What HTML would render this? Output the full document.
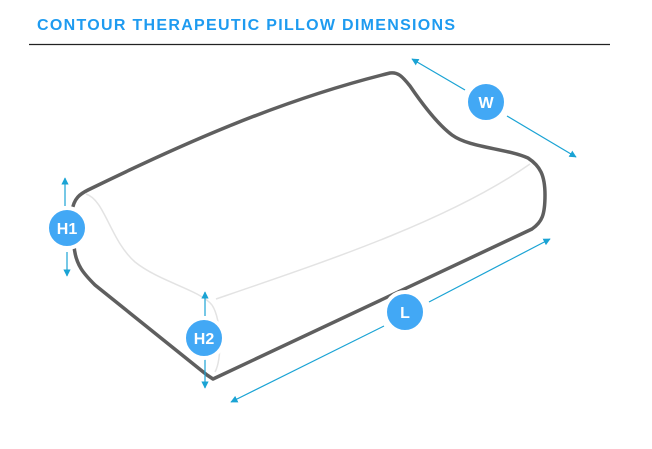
<!DOCTYPE html>
<html><head><style>
html,body{margin:0;padding:0;background:#fff;}
body{width:652px;height:444px;overflow:hidden;position:relative;}
</style></head><body>
<svg width="652" height="444" viewBox="0 0 652 444" xmlns="http://www.w3.org/2000/svg">
<defs>
<marker id="ah" viewBox="0 0 10 10" refX="9" refY="5" markerWidth="6" markerHeight="6" orient="auto-start-reverse">
<path d="M0,0 L10,5 L0,10 z" fill="#1aa3d4"/>
</marker>
</defs>
<text x="37" y="30" font-family="Liberation Sans, sans-serif" font-weight="bold" font-size="16" fill="#1e9bf0" letter-spacing="1.3">CONTOUR THERAPEUTIC PILLOW DIMENSIONS</text>
<line x1="29" y1="44.5" x2="610" y2="44.5" stroke="#222" stroke-width="1.2"/>
<g fill="none" stroke="#e3e3e3" stroke-width="1.5">
<path d="M86,194 C105,200 110,240 135,262 C160,282 200,290 212,305"/>
<path d="M216,299 C330,260 450,220 530,164"/>
<path d="M212,305 C222,320 222,360 215,372"/>
</g>
<g fill="none" stroke="#5f5f5f" stroke-width="3.5" stroke-linecap="round" stroke-linejoin="round">
<path d="M72,211 C74,198 80,194 88,190 C180,145 280,100 390,73 C398,72 402,76 410,86 C425,108 440,126 452,135 C470,148 505,148 528,158 C540,166 545,175 545,195 C545,215 542,222 532,229 L 213,379 L 207,375 L 95,285 C85,275 75,265 74,245"/>
</g>
<g stroke="#1aa3d4" stroke-width="1.2" fill="none">
<line x1="65" y1="206" x2="65" y2="178" marker-end="url(#ah)"/>
<line x1="67" y1="252" x2="67" y2="276" marker-end="url(#ah)"/>
<line x1="205" y1="316" x2="205" y2="292" marker-end="url(#ah)"/>
<line x1="205" y1="354" x2="205" y2="388" marker-end="url(#ah)"/>
<line x1="465" y1="90" x2="412" y2="59" marker-end="url(#ah)"/>
<line x1="507" y1="116" x2="576" y2="157" marker-end="url(#ah)"/>
<line x1="429" y1="302" x2="550" y2="239" marker-end="url(#ah)"/>
<line x1="384" y1="326" x2="231" y2="402" marker-end="url(#ah)"/>
</g>
<g fill="#42a8f5" stroke="#fff" stroke-width="4">
<circle cx="67" cy="228" r="20"/>
<circle cx="204" cy="338" r="20"/>
<circle cx="486" cy="102" r="20"/>
<circle cx="405" cy="312" r="20"/>
</g>
<g font-family="Liberation Sans, sans-serif" font-weight="bold" font-size="16" fill="#fff" text-anchor="middle">
<text x="67" y="234">H1</text>
<text x="204" y="344">H2</text>
<text x="486" y="108">W</text>
<text x="405" y="318">L</text>
</g>
</svg>
</body></html>
